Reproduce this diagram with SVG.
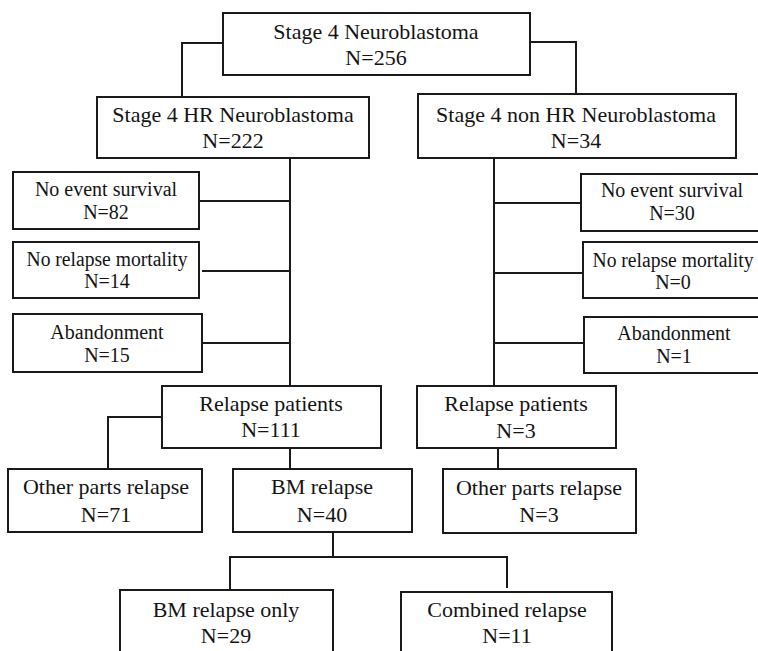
<svg xmlns="http://www.w3.org/2000/svg" width="758" height="651" viewBox="0 0 758 651">
<style>
.box{fill:#fff;stroke:#1a1a1a;stroke-width:2}
.ln{fill:none;stroke:#1a1a1a;stroke-width:2}
text{font-family:"Liberation Serif","Times New Roman",serif;fill:#141414;text-anchor:middle}
.l{font-size:22px}
.s{font-size:20px}
</style>
<rect width="758" height="651" fill="#fff"/>
<g id="connectors">
<path class="ln" d="M223,43 H182 V97"/>
<path class="ln" d="M530,42 H576 V94"/>
<path class="ln" d="M290,158 V386"/>
<path class="ln" d="M199,201 H290"/>
<path class="ln" d="M202,271 H290"/>
<path class="ln" d="M202,343 H290"/>
<path class="ln" d="M494,158 V386"/>
<path class="ln" d="M494,203 H581"/>
<path class="ln" d="M494,273 H583"/>
<path class="ln" d="M494,343 H584"/>
<path class="ln" d="M162,417 H108 V469"/>
<path class="ln" d="M290,448 V469"/>
<path class="ln" d="M498,448 V469"/>
<path class="ln" d="M333,532 V557"/>
<path class="ln" d="M230,590 V557 H507 V588"/>
</g>
<g id="n_root"><rect class="box" x="223" y="13" width="307" height="62"/><text class="l" x="376" y="39">Stage 4 Neuroblastoma</text><text class="l" x="376" y="65">N=256</text></g>
<g id="n_hr"><rect class="box" x="97" y="97" width="272" height="61"/><text class="l" x="233" y="122">Stage 4 HR Neuroblastoma</text><text class="l" x="233" y="148">N=222</text></g>
<g id="n_nonhr"><rect class="box" x="418" y="94" width="318" height="64"/><text class="l" x="576" y="122">Stage 4 non HR Neuroblastoma</text><text class="l" x="576" y="148">N=34</text></g>
<g id="n_nes_l"><rect class="box" x="13" y="172" width="186" height="57"/><text class="s" x="106" y="196">No event survival</text><text class="s" x="106" y="219">N=82</text></g>
<g id="n_nrm_l"><rect class="box" x="13" y="242" width="186" height="56"/><text class="s" x="107" y="266" textLength="161" lengthAdjust="spacingAndGlyphs">No relapse mortality</text><text class="s" x="107" y="288">N=14</text></g>
<g id="n_ab_l"><rect class="box" x="13" y="314" width="189" height="58"/><text class="s" x="107" y="339">Abandonment</text><text class="s" x="107" y="362">N=15</text></g>
<g id="n_nes_r"><rect class="box" x="581" y="174" width="185" height="57"/><text class="s" x="672" y="197">No event survival</text><text class="s" x="672" y="220">N=30</text></g>
<g id="n_nrm_r"><rect class="box" x="583" y="242" width="183" height="56"/><text class="s" x="673" y="267" textLength="161" lengthAdjust="spacingAndGlyphs">No relapse mortality</text><text class="s" x="673" y="289">N=0</text></g>
<g id="n_ab_r"><rect class="box" x="584" y="317" width="182" height="56"/><text class="s" x="674" y="340">Abandonment</text><text class="s" x="674" y="363">N=1</text></g>
<g id="n_rel_l"><rect class="box" x="162" y="386" width="219" height="62"/><text class="l" x="271" y="411">Relapse patients</text><text class="l" x="271" y="437">N=111</text></g>
<g id="n_rel_r"><rect class="box" x="417" y="386" width="199" height="62"/><text class="l" x="516" y="411">Relapse patients</text><text class="l" x="516" y="438">N=3</text></g>
<g id="n_other_l"><rect class="box" x="8" y="469" width="194" height="63"/><text class="l" x="106" y="494">Other parts relapse</text><text class="l" x="106" y="522">N=71</text></g>
<g id="n_bm"><rect class="box" x="233" y="469" width="179" height="63"/><text class="l" x="322" y="494">BM relapse</text><text class="l" x="322" y="522">N=40</text></g>
<g id="n_other_r"><rect class="box" x="443" y="469" width="193" height="64"/><text class="l" x="539" y="495">Other parts relapse</text><text class="l" x="539" y="522">N=3</text></g>
<g id="n_bmonly"><rect class="box" x="120" y="590" width="213" height="70"/><text class="l" x="226" y="617">BM relapse only</text><text class="l" x="226" y="643">N=29</text></g>
<g id="n_comb"><rect class="box" x="401" y="592" width="211" height="70"/><text class="l" x="507" y="617">Combined relapse</text><text class="l" x="507" y="643">N=11</text></g>
</svg>
